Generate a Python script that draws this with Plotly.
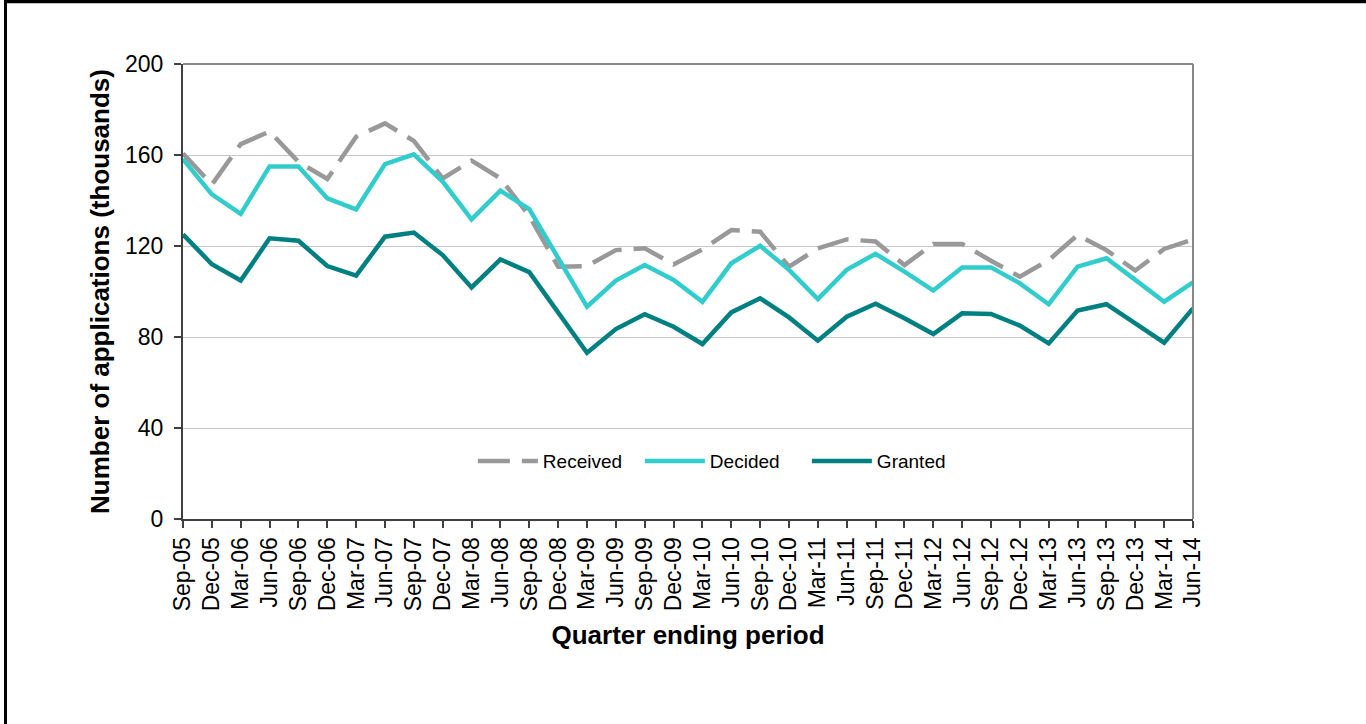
import plotly.graph_objects as go

quarters = ["Sep-05", "Dec-05", "Mar-06", "Jun-06", "Sep-06", "Dec-06", "Mar-07", "Jun-07",
            "Sep-07", "Dec-07", "Mar-08", "Jun-08", "Sep-08", "Dec-08", "Mar-09", "Jun-09",
            "Sep-09", "Dec-09", "Mar-10", "Jun-10", "Sep-10", "Dec-10", "Mar-11", "Jun-11",
            "Sep-11", "Dec-11", "Mar-12", "Jun-12", "Sep-12", "Dec-12", "Mar-13", "Jun-13",
            "Sep-13", "Dec-13", "Mar-14", "Jun-14"]

received = [160.7, 147.0, 164.8, 170.3, 157.0, 149.5, 168.0, 173.9, 166.2, 149.7, 157.5, 149.7,
            133.2, 110.9, 111.2, 118.2, 119.0, 111.9, 118.5, 127.0, 126.3, 110.9, 119.0, 122.9,
            122.0, 111.6, 120.9, 120.9, 113.5, 106.5, 113.8, 124.8, 118.2, 109.2, 118.7, 122.9]

decided = [158.2, 142.7, 134.1, 155.0, 155.0, 141.0, 136.1, 156.0, 160.3, 148.3, 131.7, 144.3,
           136.2, 115.0, 93.3, 104.8, 111.6, 105.1, 95.5, 112.4, 120.1, 109.5, 96.7, 109.5,
           116.6, 108.7, 100.4, 110.6, 110.6, 103.6, 94.4, 110.9, 114.6, 105.1, 95.5, 104.0]

granted = [125.1, 112.0, 104.8, 123.4, 122.3, 111.2, 107.0, 124.1, 125.9, 116.0, 101.8, 114.1,
           108.5, 91.1, 73.1, 83.5, 90.0, 84.5, 76.9, 90.8, 97.0, 88.6, 78.4, 88.9,
           94.6, 88.2, 81.3, 90.4, 90.1, 85.0, 77.2, 91.6, 94.4, 86.0, 77.5, 92.6]

y_ticks = [0, 40, 80, 120, 160, 200]

FONT = "Liberation Sans, Arial, sans-serif"

fig = go.Figure()
fig.add_trace(go.Scatter(x=quarters, y=received, name="Received", mode="lines",
                         line=dict(color="#999999", width=4.5, dash="32px,12px")))
fig.add_trace(go.Scatter(x=quarters, y=decided, name="Decided", mode="lines",
                         line=dict(color="#33CCCC", width=4.5)))
fig.add_trace(go.Scatter(x=quarters, y=granted, name="Granted", mode="lines",
                         line=dict(color="#008080", width=4.5)))

W, H = 1366, 724
L, R, T, B = 183, 173, 64, 205

fig.update_layout(
    width=W, height=H, autosize=False,
    margin=dict(l=L, r=R, t=T, b=B, pad=0),
    paper_bgcolor="white", plot_bgcolor="white",
    font=dict(family=FONT, color="black"),
    showlegend=True,
    legend=dict(orientation="h", x=0.287, xanchor="left", y=0.127, yanchor="middle",
                font=dict(size=19, family=FONT, color="black"),
                bgcolor="rgba(0,0,0,0)", itemwidth=60,
                entrywidth=92, entrywidthmode="pixels"),
    xaxis=dict(
        type="category", range=[0, len(quarters) - 1],
        tickangle=-90, tickfont=dict(size=23, family=FONT, color="black"),
        showline=True, linecolor="#404040", linewidth=2,
        ticks="outside", ticklen=7, tickcolor="#404040", tickwidth=1.5,
        showgrid=False, zeroline=False,
        title=dict(text="<b>Quarter ending period</b>", font=dict(size=26, family=FONT, color="black"),
                   standoff=15),
    ),
    yaxis=dict(
        range=[0, 200], tickvals=y_ticks,
        tickfont=dict(size=23, family=FONT, color="black"),
        showline=True, linecolor="#404040", linewidth=2,
        ticks="outside", ticklen=7, tickcolor="#404040", tickwidth=1.5,
        ticklabelstandoff=6,
        showgrid=True, gridcolor="#C8C8C8", gridwidth=1, zeroline=False,
        title=dict(text="<b>Number of applications (thousands)</b>",
                   font=dict(size=26, family=FONT, color="black"), standoff=8),
    ),
)

# plot-area top and right border (grey)
fig.add_shape(type="line", xref="paper", yref="paper", x0=0, x1=1, y0=1, y1=1,
              line=dict(color="#888888", width=2))
fig.add_shape(type="line", xref="paper", yref="paper", x0=1, x1=1, y0=0, y1=1,
              line=dict(color="#888888", width=2))

# outer black frame (left and top edges of the picture)
px = lambda v: (v - L) / (W - L - R)
py = lambda v: (H - B - v) / (H - T - B)
fig.add_shape(type="line", xref="paper", yref="paper", x0=px(5.5), x1=px(5.5), y0=py(0), y1=py(H + 5),
              line=dict(color="black", width=3))
fig.add_shape(type="line", xref="paper", yref="paper", x0=px(4), x1=px(W + 5), y0=py(1.5), y1=py(1.5),
              line=dict(color="black", width=3.5))

fig.write_html("out.html", config={"displayModeBar": False},
               post_script="document.body.style.margin='0';document.body.style.padding='0';")
